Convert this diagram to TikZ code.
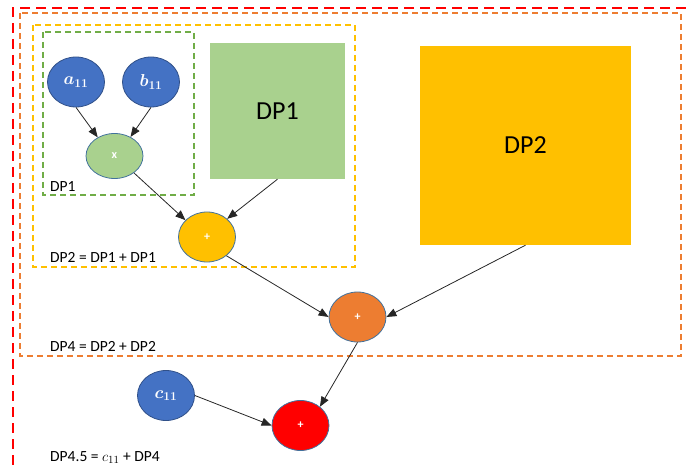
\documentclass[tikz,border=0pt]{standalone}
\usepackage{fontspec}
\setmainfont{Carlito}
\usetikzlibrary{shapes.geometric,arrows.meta}
\definecolor{opblue}{HTML}{4472C4}
\definecolor{opedge}{HTML}{41719C}
\definecolor{opgreen}{HTML}{A9D18E}
\definecolor{opdkgreen}{HTML}{70AD47}
\definecolor{opyellow}{HTML}{FFC000}
\definecolor{oporange}{HTML}{ED7D31}
\definecolor{opred}{HTML}{FF0000}
\tikzset{
  opnode/.style={ellipse, draw=opedge, line width=0.8pt, inner sep=0pt,
    minimum width=57pt, minimum height=50pt, text=white, font=\fontsize{12}{14}\selectfont\bfseries},
  leafnode/.style={opnode, fill=opblue, draw=opblue!70!black, font=\fontsize{18}{20}\selectfont\boldmath},
  dpbox/.style={rectangle, inner sep=0pt, font=\fontsize{26}{30}\selectfont},
  flow/.style={-{Triangle[length=10pt,width=8pt]}, line width=0.8pt, draw=black!85},
  groupline/.style={dashed, line width=1.6pt, dash pattern=on 6pt off 4pt},
  grouplabel/.style={anchor=base west, inner sep=0pt, font=\fontsize{15.5}{18}\selectfont}
}
\begin{document}
\begin{tikzpicture}
\useasboundingbox (0pt,0pt) rectangle (686pt,-468pt);
\draw[opred, line width=2.6pt, dash pattern=on 10pt off 6pt] (686pt,-8pt) -- (13pt,-8pt) -- (13pt,-468pt);
\draw[groupline, oporange] (20pt,-13pt) rectangle (681pt,-356pt);
\draw[groupline, opyellow] (33pt,-25pt) rectangle (355pt,-267pt);
\draw[groupline, opdkgreen] (43pt,-32pt) rectangle (194pt,-195pt);
\node[grouplabel] (lblone) at (50pt,-192pt) {DP1};
\node[grouplabel] (lbltwo) at (50pt,-262pt) {DP2 = DP1 + DP1};
\node[grouplabel] (lblfour) at (50pt,-351pt) {DP4 = DP2 + DP2};
\node[grouplabel] (lblfive) at (50pt,-461pt) {DP4.5 = $c_{11}$ + DP4};
\node[leafnode] (aone) at (76pt,-82pt) {$a_{11}$};
\node[leafnode] (bone) at (151pt,-82pt) {$b_{11}$};
\node[opnode, fill=opgreen, minimum height=45pt] (mult) at (114.5pt,-156pt) {x};
\node[dpbox, fill=opgreen, minimum width=135pt, minimum height=136pt] (dpone) at (277.5pt,-111pt) {DP1};
\node[opnode, fill=opyellow] (addtwo) at (207pt,-237pt) {+};
\node[dpbox, fill=opyellow, minimum width=211pt, minimum height=199pt] (dptwo) at (525.5pt,-145.5pt) {DP2};
\node[opnode, fill=oporange] (addfour) at (357.5pt,-317pt) {+};
\node[leafnode] (cone) at (166pt,-395.5pt) {$c_{11}$};
\node[opnode, fill=opred] (addfive) at (300.5pt,-425.5pt) {+};
\draw[flow] (aone.south) -- (mult.132);
\draw[flow] (bone.south) -- (mult.50);
\draw[flow] (mult.-41) -- (addtwo.142);
\draw[flow] (dpone.south) -- (addtwo.42);
\draw[flow] (addtwo.-44) -- (addfour.west);
\draw[flow] (dptwo.south) -- (addfour.east);
\draw[flow] (addfour.south) -- (addfive.44);
\draw[flow] (cone.east) -- (addfive.west);
\end{tikzpicture}
\end{document}
